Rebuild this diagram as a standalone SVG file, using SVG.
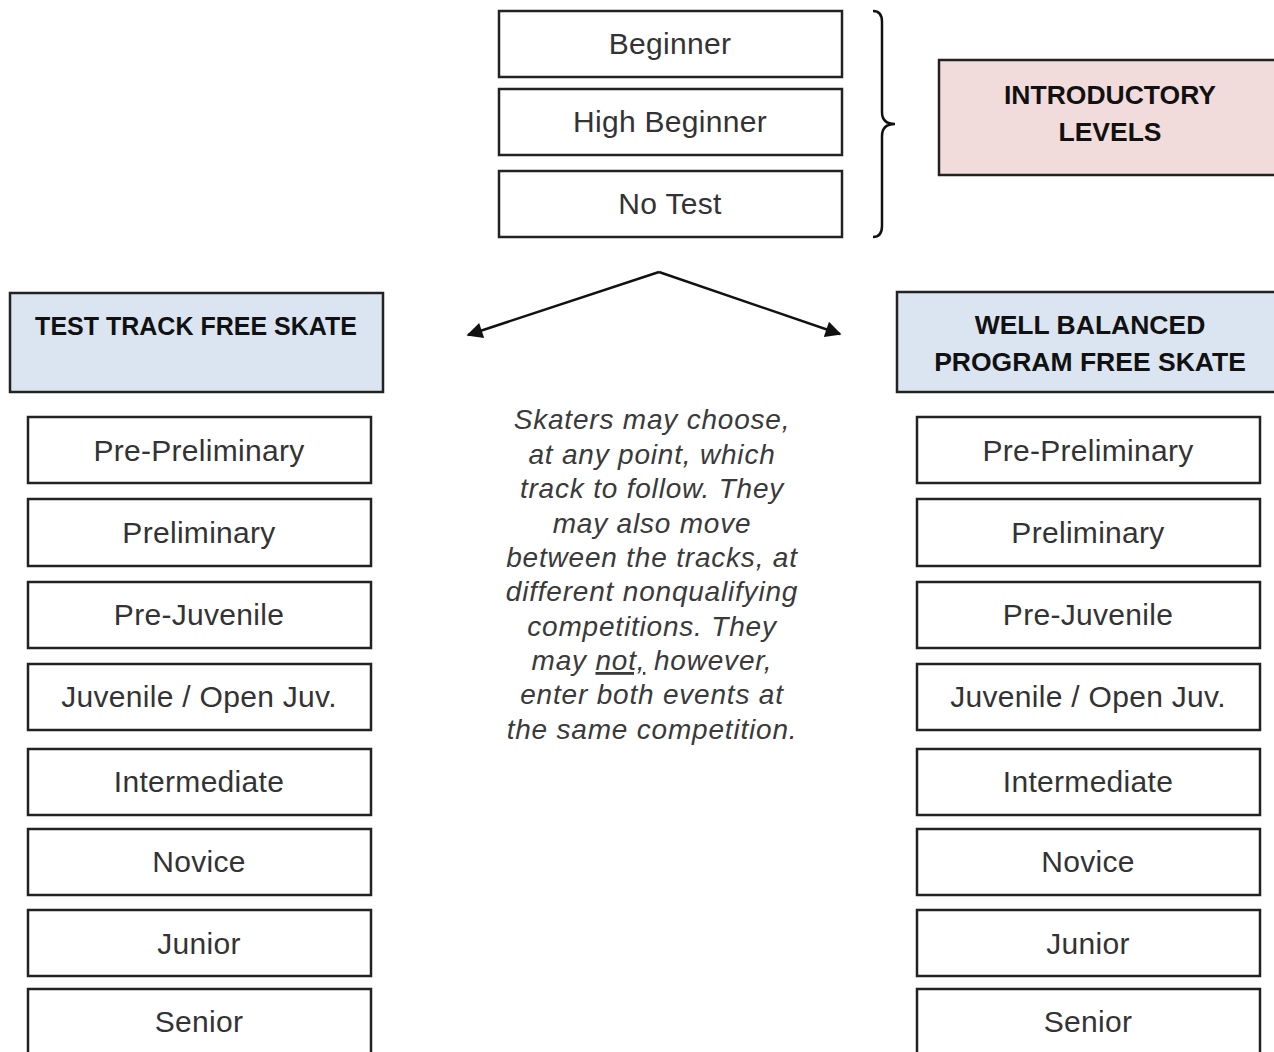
<svg xmlns="http://www.w3.org/2000/svg" width="1274" height="1052" viewBox="0 0 1274 1052">
<style>
.box{fill:#fff;stroke:#222;stroke-width:2.5}
.hdr{fill:#dbe5f1;stroke:#222;stroke-width:2.5}
.intro{fill:#f2dcdb;stroke:#222;stroke-width:2.5}
.lbl{font-family:"Liberation Sans",Arial,sans-serif;font-size:30px;letter-spacing:0.3px;fill:#333;text-anchor:middle}
.bold{font-family:"Liberation Sans",Arial,sans-serif;font-size:26.5px;font-weight:bold;fill:#111;text-anchor:middle}
.note{font-family:"Liberation Sans",Arial,sans-serif;font-size:28px;letter-spacing:0.8px;font-style:italic;fill:#3a3a3a;text-anchor:middle}
.conn{fill:none;stroke:#111;stroke-width:2.5}
</style>
<defs>
<marker id="ah" viewBox="0 0 10 10" refX="9" refY="5" markerWidth="20" markerHeight="16" markerUnits="userSpaceOnUse" orient="auto">
<path d="M0,0 L10,5 L0,10 z" fill="#111"/>
</marker>
</defs>
<g id="connectors">
<path class="conn" d="M873,11 Q882,11 882,22 L882,112 Q882,124 895,124 Q882,124 882,136 L882,226 Q882,237 873,237"/>
<path class="conn" d="M659,272 L468,335" marker-end="url(#ah)"/>
<path class="conn" d="M659,272 L840,334" marker-end="url(#ah)"/>
</g>
<g id="beginner"><rect class="box" x="499" y="11" width="343" height="66"/><text class="lbl" x="670" y="54">Beginner</text></g>
<g id="high-beginner"><rect class="box" x="499" y="89" width="343" height="66"/><text class="lbl" x="670" y="132">High Beginner</text></g>
<g id="no-test"><rect class="box" x="499" y="171" width="343" height="66"/><text class="lbl" x="670" y="214">No Test</text></g>
<g id="intro-levels"><rect class="intro" x="939" y="60" width="340" height="115"/><text class="bold" x="1110" y="104">INTRODUCTORY</text><text class="bold" x="1110" y="141">LEVELS</text></g>
<g id="test-track"><rect class="hdr" x="10" y="293" width="373" height="99"/><text class="bold" x="196" y="335" style="font-size:25px">TEST TRACK FREE SKATE</text></g>
<g id="well-balanced"><rect class="hdr" x="897" y="292" width="382" height="100"/><text class="bold" x="1090" y="334">WELL BALANCED</text><text class="bold" x="1090" y="371">PROGRAM FREE SKATE</text></g>
<g id="note">
<text class="note" x="652" y="429">Skaters may choose,</text>
<text class="note" x="652" y="464">at any point, which</text>
<text class="note" x="652" y="498">track to follow. They</text>
<text class="note" x="652" y="533">may also move</text>
<text class="note" x="652" y="567">between the tracks, at</text>
<text class="note" x="652" y="601">different nonqualifying</text>
<text class="note" x="652" y="636">competitions.  They</text>
<text class="note" x="652" y="670">may <tspan text-decoration="underline">not,</tspan> however,</text>
<text class="note" x="652" y="704">enter both events at</text>
<text class="note" x="652" y="739">the same competition.</text>
</g>
<g id="l-pre-preliminary"><rect class="box" x="28" y="417" width="343" height="66"/><text class="lbl" x="199" y="461">Pre-Preliminary</text></g>
<g id="l-preliminary"><rect class="box" x="28" y="499" width="343" height="67"/><text class="lbl" x="199" y="543">Preliminary</text></g>
<g id="l-pre-juvenile"><rect class="box" x="28" y="582" width="343" height="66"/><text class="lbl" x="199" y="625">Pre-Juvenile</text></g>
<g id="l-juvenile"><rect class="box" x="28" y="664" width="343" height="66"/><text class="lbl" x="199" y="707">Juvenile / Open Juv.</text></g>
<g id="l-intermediate"><rect class="box" x="28" y="749" width="343" height="66"/><text class="lbl" x="199" y="792">Intermediate</text></g>
<g id="l-novice"><rect class="box" x="28" y="829" width="343" height="66"/><text class="lbl" x="199" y="872">Novice</text></g>
<g id="l-junior"><rect class="box" x="28" y="910" width="343" height="66"/><text class="lbl" x="199" y="954">Junior</text></g>
<g id="l-senior"><rect class="box" x="28" y="989" width="343" height="80"/><text class="lbl" x="199" y="1032">Senior</text></g>
<g id="r-pre-preliminary"><rect class="box" x="917" y="417" width="343" height="66"/><text class="lbl" x="1088" y="461">Pre-Preliminary</text></g>
<g id="r-preliminary"><rect class="box" x="917" y="499" width="343" height="67"/><text class="lbl" x="1088" y="543">Preliminary</text></g>
<g id="r-pre-juvenile"><rect class="box" x="917" y="582" width="343" height="66"/><text class="lbl" x="1088" y="625">Pre-Juvenile</text></g>
<g id="r-juvenile"><rect class="box" x="917" y="664" width="343" height="66"/><text class="lbl" x="1088" y="707">Juvenile / Open Juv.</text></g>
<g id="r-intermediate"><rect class="box" x="917" y="749" width="343" height="66"/><text class="lbl" x="1088" y="792">Intermediate</text></g>
<g id="r-novice"><rect class="box" x="917" y="829" width="343" height="66"/><text class="lbl" x="1088" y="872">Novice</text></g>
<g id="r-junior"><rect class="box" x="917" y="910" width="343" height="66"/><text class="lbl" x="1088" y="954">Junior</text></g>
<g id="r-senior"><rect class="box" x="917" y="989" width="343" height="80"/><text class="lbl" x="1088" y="1032">Senior</text></g>
</svg>
